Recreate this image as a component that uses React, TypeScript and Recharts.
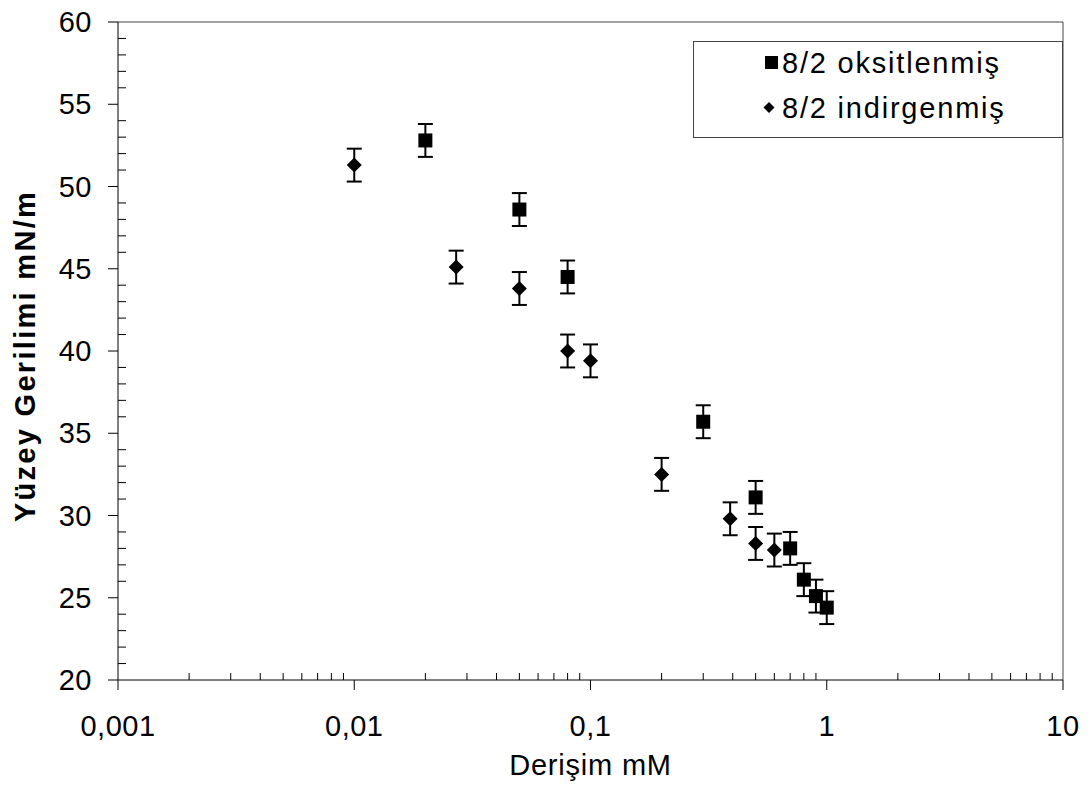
import {
  ScatterChart,
  Scatter,
  XAxis,
  YAxis,
  ErrorBar,
  ReferenceLine,
  Legend,
} from "recharts";

// 8/2 oksitlenmiş (kare)
const oxX = [0.02, 0.05, 0.08, 0.3, 0.5, 0.7, 0.8, 0.9, 1.0];
const oxY = [52.8, 48.6, 44.5, 35.7, 31.1, 28.0, 26.1, 25.1, 24.4];
const oxErr = [1, 1, 1, 1, 1, 1, 1, 1, 1];

// 8/2 indirgenmiş (elmas)
const redX = [0.01, 0.027, 0.05, 0.08, 0.1, 0.2, 0.39, 0.5, 0.6];
const redY = [51.3, 45.1, 43.8, 40.0, 39.4, 32.5, 29.8, 28.3, 27.9];
const redErr = [1, 1, 1, 1, 1, 1, 1, 1, 1];

const xDecades = [0.001, 0.01, 0.1, 1, 10];
const xMinorSteps = [2, 3, 4, 5, 6, 7, 8, 9];
const yTicks = [
  20, 21, 22, 23, 24, 25, 26, 27, 28, 29, 30, 31, 32, 33, 34, 35, 36, 37, 38, 39,
  40, 41, 42, 43, 44, 45, 46, 47, 48, 49, 50, 51, 52, 53, 54, 55, 56, 57, 58, 59, 60,
];

const xTicks = [
  ...xDecades,
  ...xDecades.slice(0, -1).flatMap((d) => xMinorSteps.map((m) => m * d)),
];

const oxData = oxX.map((x, i) => ({ x, y: oxY[i], err: oxErr[i] }));
const redData = redX.map((x, i) => ({ x, y: redY[i], err: redErr[i] }));

const FONT = '"Liberation Sans", Arial, sans-serif';
const AXIS = "#000";

const isDecade = (v: number) =>
  Math.abs(Math.log10(v) - Math.round(Math.log10(v))) < 1e-9;

const fmt = (v: number) => String(v).replace(".", ",");

function XTick(props: any) {
  const { x, y, payload } = props;
  const v = payload.value;
  if (isDecade(v)) {
    return (
      <g>
        <line x1={x} x2={x} y1={y} y2={y + 10} stroke={AXIS} />
        <text
          x={x}
          y={y + 56}
          textAnchor="middle"
          fontSize={29}
          fontFamily={FONT}
          letterSpacing={0.5}
          fill="#000"
        >
          {fmt(v)}
        </text>
      </g>
    );
  }
  return <line x1={x} x2={x} y1={y} y2={y - 7} stroke={AXIS} />;
}

function YTick(props: any) {
  const { x, y, payload } = props;
  const v = payload.value;
  if (v % 5 === 0) {
    return (
      <g>
        <line x1={x - 10} x2={x} y1={y} y2={y} stroke={AXIS} />
        <text
          x={x - 26}
          y={y}
          textAnchor="end"
          dominantBaseline="central"
          fontSize={29}
          fontFamily={FONT}
          letterSpacing={0.5}
          fill="#000"
        >
          {v}
        </text>
      </g>
    );
  }
  return <line x1={x} x2={x + 8} y1={y} y2={y} stroke={AXIS} />;
}

const SquareShape = (p: any) => (
  <rect x={p.cx - 7} y={p.cy - 7} width={14} height={14} fill="#000" />
);

const DiamondShape = (p: any) => (
  <polygon
    points={`${p.cx},${p.cy - 7.5} ${p.cx + 7.5},${p.cy} ${p.cx},${p.cy + 7.5} ${p.cx - 7.5},${p.cy}`}
    fill="#000"
  />
);

function LegendBox() {
  return (
    <svg width={370} height={97} style={{ display: "block" }}>
      <rect x={0.5} y={0.5} width={369} height={96} fill="#fff" stroke="#444" />
      <rect x={72} y={15} width={13} height={13} fill="#000" />
      <text
        x={89}
        y={32}
        fontSize={29}
        fontFamily={FONT}
        letterSpacing={1.8}
        fill="#000"
      >
        8/2 oksitlenmiş
      </text>
      <polygon points="76,61 81.5,66.5 76,72 70.5,66.5" fill="#000" />
      <text
        x={89}
        y={77}
        fontSize={29}
        fontFamily={FONT}
        letterSpacing={1.8}
        fill="#000"
      >
        8/2 indirgenmiş
      </text>
    </svg>
  );
}

export default function App() {
  return (
    <div style={{ position: "absolute", left: 0, top: 0, background: "#fff" }}>
      <ScatterChart
        width={1092}
        height={785}
        margin={{ top: 22, right: 29, bottom: 0, left: 0 }}
        style={{ fontFamily: FONT }}
      >
        <XAxis
          type="number"
          dataKey="x"
          scale="log"
          domain={[0.001, 10]}
          allowDataOverflow
          ticks={xTicks}
          interval={0}
          tickSize={0}
          tickMargin={0}
          tickLine={false}
          tick={<XTick />}
          height={105}
          axisLine={{ stroke: AXIS }}
          label={{
            value: "Derişim mM",
            position: "insideBottom",
            offset: 10,
            fontSize: 29,
            letterSpacing: 0.8,
            fill: "#000",
          }}
        />
        <YAxis
          type="number"
          dataKey="y"
          domain={[20, 60]}
          allowDataOverflow
          ticks={yTicks}
          interval={0}
          tickSize={0}
          tickMargin={0}
          tickLine={false}
          tick={<YTick />}
          width={118}
          axisLine={{ stroke: AXIS }}
          label={{
            content: () => (
              <text
                transform="translate(35,356) rotate(-90)"
                textAnchor="middle"
                fontSize={29}
                fontWeight="bold"
                fontFamily={FONT}
                letterSpacing={2.3}
                fill="#000"
              >
                Yüzey Gerilimi mN/m
              </text>
            ),
          }}
        />
        <ReferenceLine y={60} stroke="#444" />
        <ReferenceLine x={10} stroke="#444" />
        <Legend
          layout="vertical"
          align="center"
          verticalAlign="middle"
          content={() => <LegendBox />}
          wrapperStyle={{ left: 693, top: 41, width: 370, height: 97 }}
        />
        <Scatter
          name="8/2 indirgenmiş"
          data={redData}
          shape={<DiamondShape />}
          isAnimationActive={false}
        >
          <ErrorBar
            dataKey="err"
            direction="y"
            width={7.5}
            strokeWidth={2}
            stroke="#000"
          />
        </Scatter>
        <Scatter
          name="8/2 oksitlenmiş"
          data={oxData}
          shape={<SquareShape />}
          isAnimationActive={false}
        >
          <ErrorBar
            dataKey="err"
            direction="y"
            width={7.5}
            strokeWidth={2}
            stroke="#000"
          />
        </Scatter>
      </ScatterChart>
    </div>
  );
}
